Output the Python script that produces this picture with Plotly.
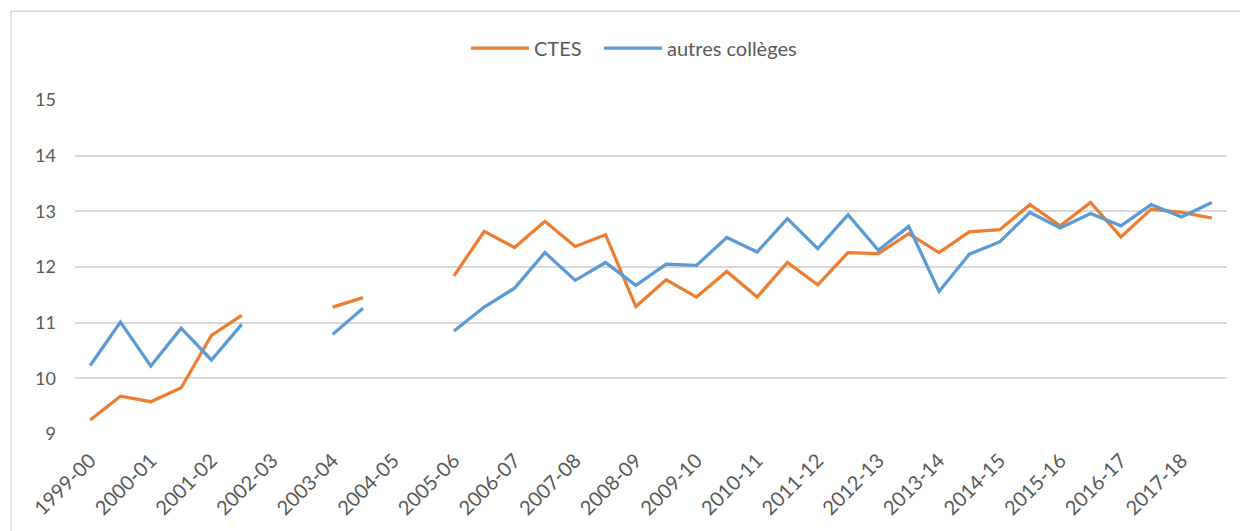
import plotly.graph_objects as go

# 38 periods (two per school year); label shown on the first of each pair
years = ["1999-00", "2000-01", "2001-02", "2002-03", "2003-04", "2004-05",
         "2005-06", "2006-07", "2007-08", "2008-09", "2009-10", "2010-11",
         "2011-12", "2012-13", "2013-14", "2014-15", "2015-16", "2016-17",
         "2017-18"]
periods = list(range(38))
tick_positions = periods[::2]

ctes = [9.25, 9.68, 9.58, 9.83, 10.77, 11.13, None, None, 11.28, 11.45,
        None, None, 11.84, 12.64, 12.35, 12.82, 12.37, 12.58, 11.29, 11.77,
        11.46, 11.92, 11.46, 12.08, 11.68, 12.26, 12.24, 12.60, 12.26, 12.63,
        12.67, 13.12, 12.74, 13.16, 12.54, 13.04, 12.98, 12.88]
autres = [10.23, 11.01, 10.22, 10.90, 10.33, 10.97, None, None, 10.79, 11.26,
          None, None, 10.85, 11.28, 11.62, 12.26, 11.76, 12.08, 11.67, 12.05,
          12.03, 12.53, 12.27, 12.87, 12.33, 12.94, 12.30, 12.73, 11.56, 12.23,
          12.45, 12.98, 12.70, 12.96, 12.74, 13.12, 12.90, 13.16]

FONT = "Lato"
GREY = "#595959"

fig = go.Figure()
fig.add_trace(go.Scatter(x=periods, y=ctes, name="CTES", mode="lines",
                         line=dict(color="#ED7D31", width=3.25),
                         connectgaps=False, legend="legend"))
fig.add_trace(go.Scatter(x=periods, y=autres, name="autres collèges", mode="lines",
                         line=dict(color="#5B9BD5", width=3.25),
                         connectgaps=False, legend="legend2"))

# page body has an 8px margin: figure sized to fill the rest of the window
W, H = 1240, 523
L, R, T, B = 67, 21, 91.5, 93
pw, ph = W - L - R, H - T - B

leg_common = dict(orientation="h", yanchor="middle", xanchor="left",
                  y=(H - B - 39) / ph,
                  font=dict(family=FONT, size=20, color=GREY),
                  itemwidth=58, tracegroupgap=0, bgcolor="rgba(0,0,0,0)",
                  borderwidth=0)

fig.update_layout(
    width=W, height=H,
    margin=dict(l=L, r=R, t=T, b=B, pad=0),
    paper_bgcolor="white", plot_bgcolor="white",
    font=dict(family=FONT, size=17, color=GREY),
    showlegend=True,
    legend=dict(leg_common, x=(458 - L) / pw),
    legend2=dict(leg_common, x=(591 - L) / pw),
    xaxis=dict(range=[-0.5, 37.5], tickmode="array", tickvals=tick_positions,
               ticktext=years, tickangle=-45, showgrid=False, zeroline=False,
               showline=False, ticks="", ticklabelstandoff=10,
               tickfont=dict(family=FONT, size=20, color=GREY),
               fixedrange=True),
    yaxis=dict(range=[9, 15], tickmode="array", tickvals=[9, 10, 11, 12, 13, 14, 15],
               showgrid=True, gridcolor="#D9D9D9", gridwidth=1.5, zeroline=False,
               showline=False, ticks="", ticklabelstandoff=18,
               tickfont=dict(family=FONT, size=18, color=GREY), fixedrange=True),
)

# chart-area border (Excel style), extends beyond the right/bottom of the image
fig.add_shape(type="rect", xref="paper", yref="paper",
              x0=(3 - L) / pw, x1=(W + 20 - L) / pw,
              y0=(H - B - (H + 20)) / ph, y1=(H - B - 1.5) / ph,
              line=dict(color="#D9D9D9", width=1.5), fillcolor="rgba(0,0,0,0)",
              layer="below")

fig.write_html("out.html")
